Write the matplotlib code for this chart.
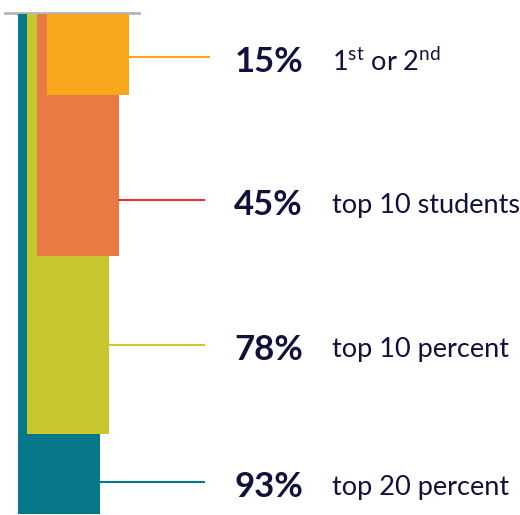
import matplotlib
matplotlib.use("Agg")
import matplotlib.pyplot as plt

# values shown in the chart
values = [93, 78, 45, 15]
pct_labels = ["93%", "78%", "45%", "15%"]
cat_labels = ["top 20 percent", "top 10 percent", "top 10 students",
              r"1$^{\mathrm{st}}$ or 2$^{\mathrm{nd}}$"]

bar_colors = ["#077889", "#c7c730", "#e87b43", "#f9a71c"]
line_colors = ["#077889", "#c7c730", "#d9363a", "#f9a71c"]
text_color = "#11113c"

plt.rcParams["font.family"] = ["Lato", "DejaVu Sans"]
plt.rcParams["mathtext.fontset"] = "custom"
plt.rcParams["mathtext.rm"] = "Lato"

W, H = 520, 515
k = 5.38         # pixels per percentage point
top = 14         # pixel row where bars hang from

fig = plt.figure(figsize=(W / 100, H / 100), dpi=100)
ax = fig.add_axes([0, 0, 1, 1])
ax.set_xlim(0, W)
ax.set_ylim((H - top) / k, -top / k)
ax.axis("off")

def py(p):
    # pixel row -> data units
    return (p - top) / k

# grey baseline at the top
ax.plot([5, 139], [py(13), py(13)], color="#b3b6ba", lw=2, zorder=1)

lefts = [18, 27, 37, 47]
width = 82
for i, v in enumerate(values):
    ax.bar(lefts[i], v, width=width, bottom=0, align="edge",
           color=bar_colors[i], zorder=2 + i)

# label rows (bottom to top)
line_rows = [482, 345, 200, 57]
line_ends = [204, 204, 204, 209]
for i in range(len(values)):
    y = py(line_rows[i])
    ax.plot([lefts[i] + width, line_ends[i]], [y, y], color=line_colors[i],
            lw=1.5, zorder=10)
    ty = py(line_rows[i] + 5)
    ax.text(303, ty, pct_labels[i], ha="right", va="center", fontsize=25,
            fontweight="bold", color=text_color)
    ax.text(332, ty, cat_labels[i], ha="left", va="center", fontsize=19.5,
            color=text_color)

fig.savefig("out.png", dpi=100)
